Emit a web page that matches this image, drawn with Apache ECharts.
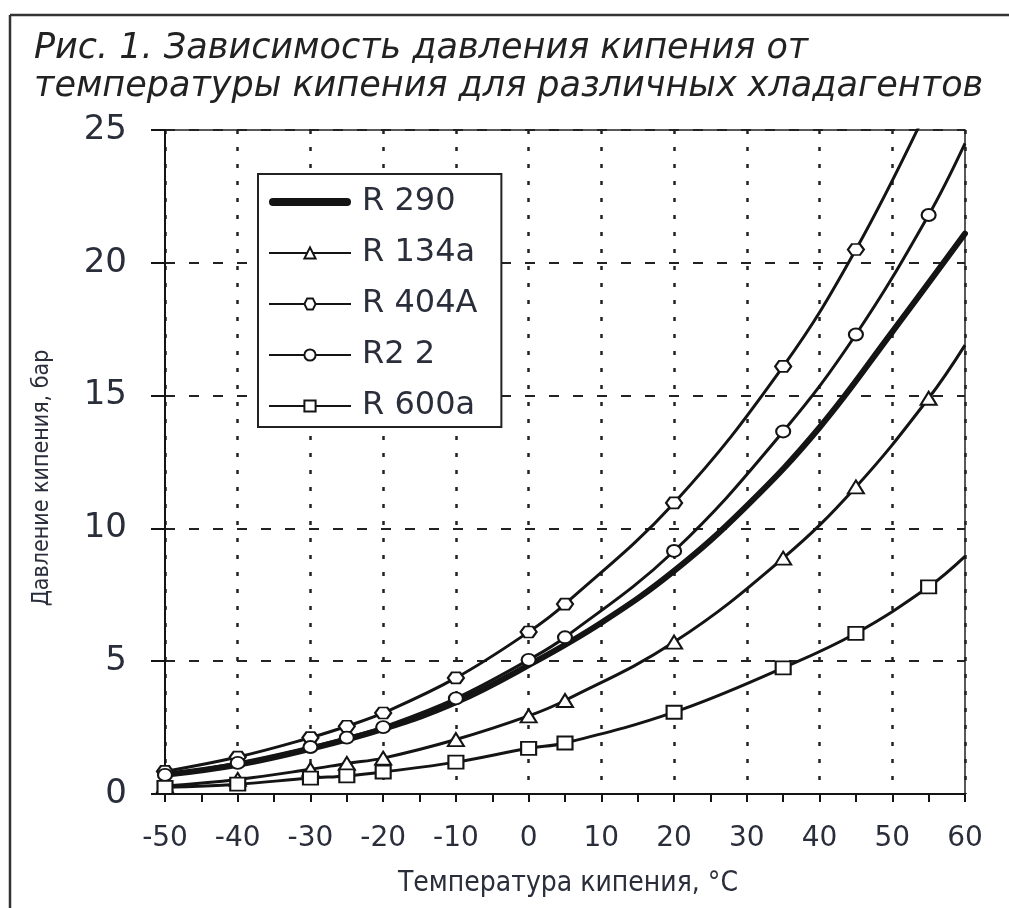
<!DOCTYPE html>
<html>
<head>
<meta charset="utf-8">
<script src="https://cdn.jsdelivr.net/npm/echarts@6/dist/echarts.min.js"></script>
<style>
html,body{margin:0;padding:0;background:#fff;}
#chart{width:1009px;height:908px;}
</style>
</head>
<body>
<div id="chart"></div>
<script>
// ---- data ----
const titleLines = ['Рис. 1. Зависимость давления кипения от', 'температуры кипения для различных хладагентов'];
const xAxisName = 'Температура кипения, °С';
const yAxisName = 'Давление кипения, бар';
const seriesNames = ['R 290', 'R 134a', 'R 404A', 'R2 2', 'R 600a'];

const xTicks = [-50, -40, -30, -20, -10, 0, 10, 20, 30, 40, 50, 60];
const yTicks = [0, 5, 10, 15, 20, 25];

// temperatures where markers are drawn
const tempsMarked = [-50, -40, -30, -25, -20, -10, 0, 5, 20, 35, 45, 55];
// end of curve (right edge), no marker
const tempEnd = 60;

const r404a = [0.85, 1.39, 2.12, 2.55, 3.05, 4.37, 6.1, 7.15, 10.96, 16.1, 20.5, 25.9];
const r22   = [0.72, 1.17, 1.77, 2.12, 2.52, 3.6, 5.05, 5.9, 9.15, 13.65, 17.3, 21.8];
const r134a = [0.3, 0.55, 0.93, 1.15, 1.35, 2.05, 2.94, 3.52, 5.72, 8.88, 11.56, 14.9];
const r600a = [0.25, 0.37, 0.6, 0.68, 0.83, 1.2, 1.72, 1.92, 3.08, 4.75, 6.05, 7.8];
const r22End = 24.5, r134aEnd = 16.9, r600aEnd = 8.95;

// R290: continuous thick curve without markers
const tempsR290 = [-50, -40, -30, -20, -10, 0, 10, 20, 30, 40, 50, 60];
const r290 = [0.72, 1.1, 1.7, 2.45, 3.45, 4.85, 6.45, 8.4, 10.85, 13.8, 17.4, 21.1];

// ---- chart ----
const Y_MAX = 25;
const INK = '#141414';
const TXT = '#2a2e3a';
const WIDE = '"DejaVu Sans", Verdana, sans-serif';
const NARROW = '"Liberation Sans Narrow", "DejaVu Sans Condensed", "Roboto Condensed", sans-serif';

function buildData(ts, vs, endVal) {
  const d = ts.map((t, i) => (vs[i] > Y_MAX ? { value: [t, vs[i]], symbol: 'none' } : { value: [t, vs[i]] }));
  if (endVal != null) d.push({ value: [tempEnd, endVal], symbol: 'none' });
  return d;
}

const hexPath = 'path://M0,5 L4,0 L12,0 L16,5 L12,10 L4,10 Z';
const thickBarIcon = 'path://M0,0 L0,0 M82,14 L82,14 M4,3 L78,3 A4,4 0 0 1 78,11 L4,11 A4,4 0 0 1 4,3 Z';

function markedSeries(name, symbol, size, data) {
  return {
    name, type: 'line', data, smooth: 0.4, clip: true,
    symbol, symbolSize: size, showAllSymbol: true,
    lineStyle: { color: INK, width: 3 },
    itemStyle: { color: '#fff', borderColor: INK, borderWidth: 2 },
    emphasis: { disabled: true }, z: 3
  };
}

const chart = echarts.init(document.getElementById('chart'), null, { renderer: 'canvas' });
chart.setOption({
  animation: false,
  backgroundColor: '#fff',
  textStyle: { fontFamily: 'DejaVu Sans' },
  graphic: [
    { type: 'line', shape: { x1: 10, y1: 15, x2: 1009, y2: 15 }, style: { stroke: '#333', lineWidth: 2.5 }, silent: true },
    { type: 'line', shape: { x1: 10, y1: 15, x2: 10, y2: 908 }, style: { stroke: '#333', lineWidth: 2.5 }, silent: true },
    { type: 'text', left: 34, top: 30, silent: true,
      style: { text: titleLines.join('\n'), font: 'italic 35px ' + WIDE, fill: '#222', lineHeight: 38 } },
    { type: 'text', x: 42, y: 478, rotation: Math.PI / 2, silent: true,
      style: { text: yAxisName, font: '23px ' + NARROW, fill: TXT, align: 'center', verticalAlign: 'middle' } },
    { type: 'text', x: 568, y: 884, silent: true,
      style: { text: xAxisName, font: '28px ' + NARROW, fill: TXT, align: 'center', verticalAlign: 'middle' } }
  ],
  grid: { left: 165, right: 44, top: 130, bottom: 114, show: true, borderColor: '#222', borderWidth: 1.5, outerBoundsMode: 'none', containLabel: false },
  legend: {
    orient: 'vertical', left: 258, top: 174,
    data: seriesNames.map((n, i) => (i === 0 ? { name: n, icon: thickBarIcon } : { name: n })),
    backgroundColor: '#fff', borderColor: '#222', borderWidth: 2,
    padding: [10, 24, 3, 10],
    itemWidth: 82, itemHeight: 14, itemGap: 15,
    selectedMode: false,
    textStyle: { fontFamily: 'DejaVu Sans', fontSize: 32, color: TXT, lineHeight: 36, padding: [0, 0, 0, 6] }
  },
  xAxis: {
    type: 'value', min: xTicks[0], max: xTicks[xTicks.length - 1], interval: 10,
    axisLine: { show: true, onZero: false, lineStyle: { color: INK, width: 2 } },
    axisTick: { show: true, length: 8, lineStyle: { color: INK, width: 2 } },
    minorTick: { show: true, splitNumber: 2, length: 8, lineStyle: { color: INK, width: 2 } },
    axisLabel: { fontSize: 28, color: TXT, margin: 31, fontFamily: 'DejaVu Sans' },
    splitLine: { show: true, lineStyle: { color: '#222', width: 2.5, type: [4, 13] } }
  },
  yAxis: {
    type: 'value', min: yTicks[0], max: yTicks[yTicks.length - 1], interval: 5,
    axisLine: { show: true, onZero: false, lineStyle: { color: INK, width: 2 } },
    axisTick: { show: true, length: 14, lineStyle: { color: INK, width: 2 } },
    axisLabel: { fontSize: 34, color: TXT, margin: 38, fontFamily: 'DejaVu Sans' },
    splitLine: { show: true, lineStyle: { color: '#222', width: 2, type: [10, 14] } }
  },
  series: [
    {
      name: seriesNames[0], type: 'line', smooth: 0.4, clip: true,
      data: tempsR290.map((t, i) => [t, r290[i]]),
      symbol: 'none',
      lineStyle: { color: INK, width: 6, cap: 'round' },
      itemStyle: { color: INK },
      emphasis: { disabled: true }, z: 2
    },
    markedSeries(seriesNames[1], 'triangle', [16, 13], buildData(tempsMarked, r134a, r134aEnd)),
    markedSeries(seriesNames[2], hexPath, [16, 11], buildData(tempsMarked, r404a, null)),
    markedSeries(seriesNames[3], 'circle', [14, 12], buildData(tempsMarked, r22, r22End)),
    markedSeries(seriesNames[4], 'rect', [15, 13], buildData(tempsMarked, r600a, r600aEnd))
  ]
});
</script>
</body>
</html>
